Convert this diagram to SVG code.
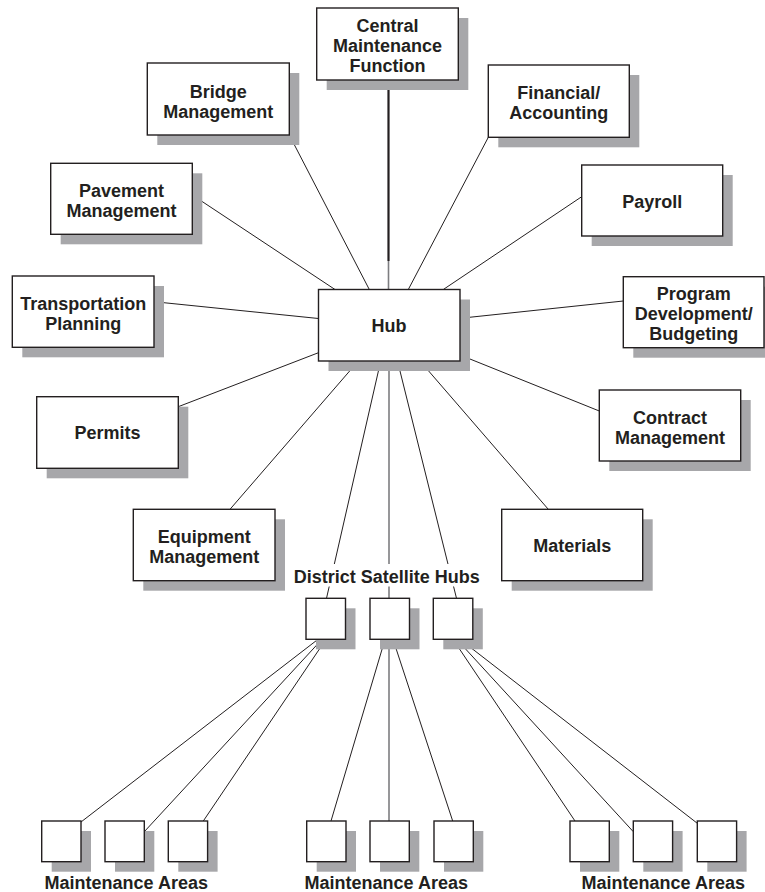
<svg xmlns="http://www.w3.org/2000/svg" width="765" height="892" viewBox="0 0 765 892">
  <style>
    .shadow { fill: #a7a7aa; }
    .box { fill: #ffffff; stroke: #231f20; stroke-width: 1.4; }
    .label { font-family: "Liberation Sans", Arial, sans-serif; font-weight: bold; font-size: 18px; fill: #231f20; text-anchor: middle; }
    .link { stroke: #231f20; stroke-width: 1; fill: none; }
    .link-gray { stroke: #7d7d80; stroke-width: 1.6; fill: none; }
    .link-main { stroke: #231f20; stroke-width: 2.2; fill: none; }
  </style>
  <rect width="765" height="892" fill="#ffffff"/>

  <!-- connectors -->
  <g id="connectors">
    <line class="link-main" x1="388.5" y1="80" x2="388.5" y2="261"/>
    <line class="link-gray" x1="388.5" y1="261" x2="388.5" y2="289.5"/>
    <line class="link" x1="289.3" y1="135" x2="369.3" y2="289.5"/>
    <line class="link" x1="488.3" y1="137.3" x2="408.3" y2="289.5"/>
    <line class="link" x1="192.3" y1="195" x2="335" y2="289.5"/>
    <line class="link" x1="581.7" y1="196.7" x2="443.3" y2="289.5"/>
    <line class="link" x1="154" y1="301.7" x2="318.5" y2="318.5"/>
    <line class="link" x1="623.3" y1="301" x2="460" y2="318.3"/>
    <line class="link" x1="178.3" y1="406.7" x2="318.5" y2="352.7"/>
    <line class="link" x1="599.3" y1="411" x2="460" y2="355"/>
    <line class="link" x1="358.3" y1="361" x2="230" y2="509.3"/>
    <line class="link" x1="420" y1="361" x2="548.3" y2="509.3"/>
    <line class="link" x1="380.7" y1="361" x2="326.5" y2="598.3"/>
    <line class="link-gray" x1="389" y1="361" x2="389" y2="598.3"/>
    <line class="link" x1="397.5" y1="361" x2="456.5" y2="598.3"/>
    <!-- satellite hubs to maintenance areas -->
    <line class="link" x1="318" y1="639.3" x2="81" y2="822"/>
    <line class="link" x1="322" y1="639.3" x2="144.3" y2="831.7"/>
    <line class="link" x1="326" y1="639.3" x2="203.3" y2="821"/>
    <line class="link" x1="385" y1="639.3" x2="331" y2="821"/>
    <line class="link-gray" x1="389" y1="639.3" x2="389" y2="821"/>
    <line class="link" x1="393" y1="639.3" x2="452.7" y2="821"/>
    <line class="link" x1="453" y1="639.3" x2="575" y2="821"/>
    <line class="link" x1="456.7" y1="639.3" x2="633.3" y2="831.7"/>
    <line class="link" x1="460" y1="639.3" x2="697.3" y2="823.3"/>
  </g>

  <!-- central node -->
  <g id="hub">
    <rect class="shadow" x="328.5" y="299.5" width="141.5" height="71.5"/>
    <rect class="box" x="318.5" y="289.5" width="141.5" height="71.5"/>
    <text class="label" x="389" y="332">Hub</text>
  </g>

  <g id="central-maintenance">
    <rect class="shadow" x="326.7" y="18" width="141.6" height="72"/>
    <rect class="box" x="316.7" y="8" width="141.6" height="72"/>
    <text class="label" x="387.5" y="32.3">Central</text>
    <text class="label" x="387.5" y="52">Maintenance</text>
    <text class="label" x="387.5" y="71.7">Function</text>
  </g>

  <g id="bridge-management">
    <rect class="shadow" x="157.3" y="73" width="142" height="72"/>
    <rect class="box" x="147.3" y="63" width="142" height="72"/>
    <text class="label" x="218.3" y="97.5">Bridge</text>
    <text class="label" x="218.3" y="117.5">Management</text>
  </g>

  <g id="financial-accounting">
    <rect class="shadow" x="498.3" y="75" width="141" height="72.3"/>
    <rect class="box" x="488.3" y="65" width="141" height="72.3"/>
    <text class="label" x="558.8" y="99">Financial/</text>
    <text class="label" x="558.8" y="119">Accounting</text>
  </g>

  <g id="pavement-management">
    <rect class="shadow" x="60.7" y="173.3" width="141.6" height="71"/>
    <rect class="box" x="50.7" y="163.3" width="141.6" height="71"/>
    <text class="label" x="121.5" y="197">Pavement</text>
    <text class="label" x="121.5" y="217">Management</text>
  </g>

  <g id="payroll">
    <rect class="shadow" x="591.7" y="175" width="141" height="71"/>
    <rect class="box" x="581.7" y="165" width="141" height="71"/>
    <text class="label" x="652.2" y="207.5">Payroll</text>
  </g>

  <g id="transportation-planning">
    <rect class="shadow" x="22.3" y="286" width="141.7" height="71.3"/>
    <rect class="box" x="12.3" y="276" width="141.7" height="71.3"/>
    <text class="label" x="83.2" y="309.5">Transportation</text>
    <text class="label" x="83.2" y="330">Planning</text>
  </g>

  <g id="program-development">
    <rect class="shadow" x="633.3" y="286.7" width="140.7" height="71"/>
    <rect class="box" x="623.3" y="276.7" width="140.7" height="71"/>
    <text class="label" x="693.7" y="300">Program</text>
    <text class="label" x="693.7" y="320">Development/</text>
    <text class="label" x="693.7" y="339.5">Budgeting</text>
  </g>

  <g id="permits">
    <rect class="shadow" x="46.7" y="406.7" width="141.6" height="71.6"/>
    <rect class="box" x="36.7" y="396.7" width="141.6" height="71.6"/>
    <text class="label" x="107.5" y="439">Permits</text>
  </g>

  <g id="contract-management">
    <rect class="shadow" x="609.3" y="400" width="141.4" height="71"/>
    <rect class="box" x="599.3" y="390" width="141.4" height="71"/>
    <text class="label" x="670" y="424">Contract</text>
    <text class="label" x="670" y="444">Management</text>
  </g>

  <g id="equipment-management">
    <rect class="shadow" x="143.3" y="519.3" width="141.7" height="71.4"/>
    <rect class="box" x="133.3" y="509.3" width="141.7" height="71.4"/>
    <text class="label" x="204.2" y="543.3">Equipment</text>
    <text class="label" x="204.2" y="563.3">Management</text>
  </g>

  <g id="materials">
    <rect class="shadow" x="511.7" y="519.3" width="141" height="71.4"/>
    <rect class="box" x="501.7" y="509.3" width="141" height="71.4"/>
    <text class="label" x="572.2" y="552">Materials</text>
  </g>

  <!-- district satellite hubs -->
  <g id="satellite-label">
    <rect x="293" y="564" width="188" height="22.5" fill="#ffffff"/>
    <text class="label" x="386.7" y="582.5">District Satellite Hubs</text>
  </g>
  <g id="satellite-1">
    <rect class="shadow" x="316" y="608.3" width="39.5" height="41"/>
    <rect class="box" x="306" y="598.3" width="39.5" height="41"/>
  </g>
  <g id="satellite-2">
    <rect class="shadow" x="380" y="608.3" width="39.5" height="41"/>
    <rect class="box" x="370" y="598.3" width="39.5" height="41"/>
  </g>
  <g id="satellite-3">
    <rect class="shadow" x="443.3" y="608.3" width="39.5" height="41"/>
    <rect class="box" x="433.3" y="598.3" width="39.5" height="41"/>
  </g>

  <!-- maintenance areas -->
  <g id="area-1-1">
    <rect class="shadow" x="51.7" y="831" width="39.3" height="40.7"/>
    <rect class="box" x="41.7" y="821" width="39.3" height="40.7"/>
  </g>
  <g id="area-1-2">
    <rect class="shadow" x="115" y="831" width="39.3" height="40.7"/>
    <rect class="box" x="105" y="821" width="39.3" height="40.7"/>
  </g>
  <g id="area-1-3">
    <rect class="shadow" x="178.3" y="831" width="39.3" height="40.7"/>
    <rect class="box" x="168.3" y="821" width="39.3" height="40.7"/>
  </g>
  <g id="area-2-1">
    <rect class="shadow" x="316.7" y="831" width="39.3" height="40.7"/>
    <rect class="box" x="306.7" y="821" width="39.3" height="40.7"/>
  </g>
  <g id="area-2-2">
    <rect class="shadow" x="380" y="831" width="39.3" height="40.7"/>
    <rect class="box" x="370" y="821" width="39.3" height="40.7"/>
  </g>
  <g id="area-2-3">
    <rect class="shadow" x="444" y="831" width="39.3" height="40.7"/>
    <rect class="box" x="434" y="821" width="39.3" height="40.7"/>
  </g>
  <g id="area-3-1">
    <rect class="shadow" x="580" y="831" width="39.3" height="40.7"/>
    <rect class="box" x="570" y="821" width="39.3" height="40.7"/>
  </g>
  <g id="area-3-2">
    <rect class="shadow" x="643.3" y="831" width="39.3" height="40.7"/>
    <rect class="box" x="633.3" y="821" width="39.3" height="40.7"/>
  </g>
  <g id="area-3-3">
    <rect class="shadow" x="707.3" y="831" width="39.3" height="40.7"/>
    <rect class="box" x="697.3" y="821" width="39.3" height="40.7"/>
  </g>
  <g id="area-labels">
    <text class="label" x="126.3" y="889">Maintenance Areas</text>
    <text class="label" x="386.3" y="889">Maintenance Areas</text>
    <text class="label" x="663.3" y="889">Maintenance Areas</text>
  </g>
</svg>
